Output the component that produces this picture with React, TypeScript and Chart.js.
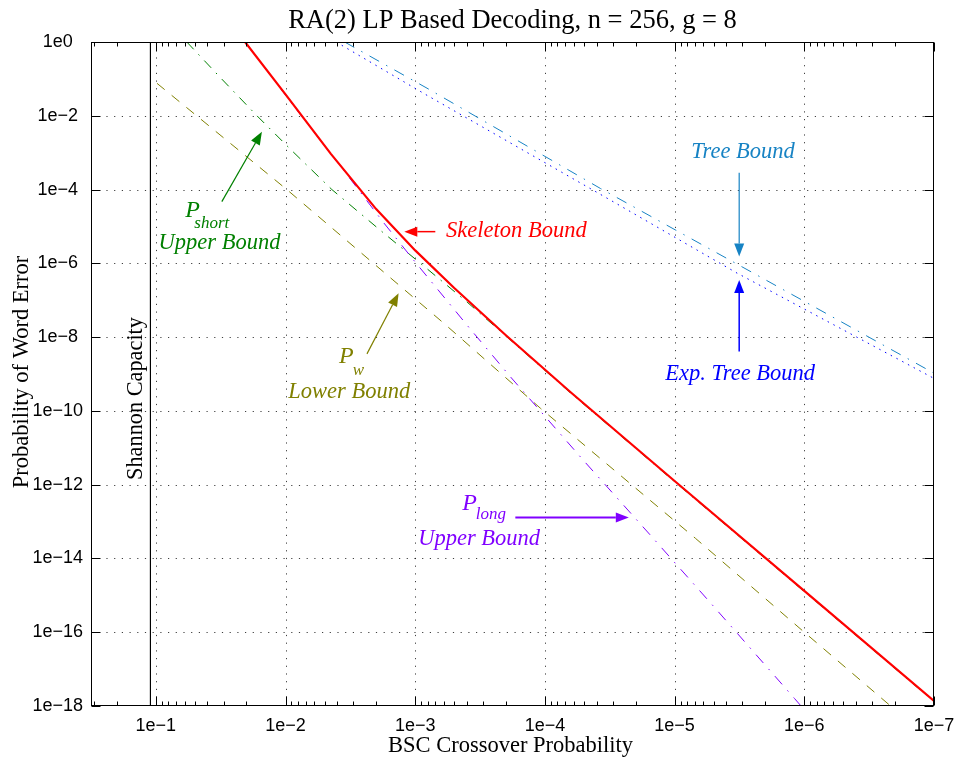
import React, { useEffect, useRef } from 'react';
import { Chart, registerables } from 'chart.js';

Chart.register(...registerables);

// ---- axis ticks ----
const xTicks = [1e-1, 1e-2, 1e-3, 1e-4, 1e-5, 1e-6, 1e-7];
const xTickLabels = ['1e\u22121', '1e\u22122', '1e\u22123', '1e\u22124', '1e\u22125', '1e\u22126', '1e\u22127'];
const yTicks = [1, 1e-2, 1e-4, 1e-6, 1e-8, 1e-10, 1e-12, 1e-14, 1e-16, 1e-18];
const yTickLabels = ['1e0', '1e\u22122', '1e\u22124', '1e\u22126', '1e\u22128', '1e\u221210', '1e\u221212', '1e\u221214', '1e\u221216', '1e\u221218'];

// ---- series (BSC crossover probability p, word error probability) ----
const skeletonP = [2.05e-2, 1.0e-2, 4.47e-3, 2.0e-3, 1.0e-3, 5.0e-4, 2.0e-4, 6.3e-5, 1.0e-5, 1.0e-6, 1.0e-7];
const skeletonErr = [1, 3.8e-2, 9.3e-4, 2.95e-5, 2.24e-6, 2.14e-7, 1.12e-8, 3.16e-10, 1.26e-12, 1.32e-15, 1.38e-18];

const shortP = [5.77e-2, 3.16e-2, 1.66e-2, 8.9e-3, 4.39e-3, 1.86e-3, 8.61e-4, 3.98e-4, 2.0e-4, 6.3e-5, 1.0e-5, 1.0e-6, 1.0e-7];
const shortErr = [1, 1.06e-1, 1.0e-2, 1.12e-3, 1.0e-4, 7.9e-6, 8.5e-7, 8.9e-8, 1.07e-8, 3.0e-10, 1.2e-12, 1.26e-15, 1.32e-18];

const lowerP = [9.8e-2, 9.77e-3, 6.04e-4, 1.08e-4, 6.9e-6, 1.0e-6, 2.16e-7];
const lowerErr = [7.6e-2, 1.0e-4, 2.4e-8, 1.17e-10, 3.5e-14, 1.0e-16, 1.0e-18];

const longP = [2.04e-2, 8.7e-3, 3.58e-3, 1.75e-3, 1.03e-3, 3.98e-4, 1.85e-4, 5.0e-5, 1.53e-5, 5.0e-6, 1.19e-6, 1.0e-6];
const longErr = [1, 1.9e-2, 3.4e-4, 1.26e-5, 1.23e-6, 2.1e-8, 8.5e-10, 4.4e-12, 4.2e-14, 5.0e-16, 1.6e-18, 7.9e-19];

const treeP = [3.5e-3, 8.11e-4, 3.73e-5, 3.29e-6, 1.0e-7];
const treeErr = [1, 5.6e-2, 1.07e-4, 9.5e-7, 1.05e-9];

const expTreeP = [4.07e-3, 8.63e-4, 3.73e-5, 3.29e-6, 1.0e-7];
const expTreeErr = [1, 4.07e-2, 7.4e-5, 5.4e-7, 7.6e-10];

const shannonP = [0.11, 0.11];
const shannonErr = [1, 1e-18];

// ---- annotations (log10 p, log10 P) ----
type Txt = { s: string; lp: number; lP: number; size: number; color: string; italic: boolean };
type Arrow = { lp1: number; lP1: number; lp2: number; lP2: number; color: string; w: number };

const GREEN = '#008000';
const OLIVE = '#808000';
const PURPLE = '#8000ff';
const RED = '#ff0000';
const TREE = '#1783c4';
const EXPTREE = '#0000ff';

const annTexts: Txt[] = [
  { s: 'P', lp: -1.284, lP: -4.734, size: 24, color: GREEN, italic: true },
  { s: 'short', lp: -1.432, lP: -5.041, size: 17, color: GREEN, italic: true },
  { s: 'Upper Bound', lp: -1.491, lP: -5.623, size: 22.5, color: GREEN, italic: true },
  { s: 'Skeleton Bound', lp: -3.78, lP: -5.276, size: 22.5, color: RED, italic: true },
  { s: 'P', lp: -2.468, lP: -8.707, size: 24, color: OLIVE, italic: true },
  { s: 'w', lp: -2.563, lP: -9.024, size: 17, color: OLIVE, italic: true },
  { s: 'Lower Bound', lp: -2.491, lP: -9.659, size: 22.5, color: OLIVE, italic: true },
  { s: 'Tree Bound', lp: -5.528, lP: -3.149, size: 22.5, color: TREE, italic: true },
  { s: 'Exp. Tree Bound', lp: -5.506, lP: -9.157, size: 22.5, color: EXPTREE, italic: true },
  { s: 'P', lp: -3.419, lP: -12.683, size: 24, color: PURPLE, italic: true },
  { s: 'long', lp: -3.583, lP: -12.943, size: 17, color: PURPLE, italic: true },
  { s: 'Upper Bound', lp: -3.493, lP: -13.626, size: 22.5, color: PURPLE, italic: true },
];

const annArrows: Arrow[] = [
  { lp1: -1.509, lP1: -4.328, lp2: -1.818, lP2: -2.431, color: GREEN, w: 1.2 },
  { lp1: -3.155, lP1: -5.141, lp2: -2.916, lP2: -5.141, color: RED, w: 1.5 },
  { lp1: -2.628, lP1: -8.455, lp2: -2.872, lP2: -6.81, color: OLIVE, w: 1.2 },
  { lp1: -5.498, lP1: -3.542, lp2: -5.498, lP2: -5.818, color: TREE, w: 1.2 },
  { lp1: -5.498, lP1: -8.393, lp2: -5.498, lP2: -6.45, color: EXPTREE, w: 1.5 },
  { lp1: -3.772, lP1: -12.892, lp2: -4.647, lP2: -12.892, color: PURPLE, w: 2 },
];

const TITLE = 'RA(2) LP Based Decoding, n = 256, g = 8';
const XTITLE = 'BSC Crossover Probability';
const YTITLE = 'Probability of Word Error';
const SHANNON = 'Shannon Capacity';

const SERIF = '"Liberation Serif", "Times New Roman", serif';
const SANS = '"Liberation Sans", Arial, sans-serif';

const zip = (xs: number[], ys: number[]) => xs.map((x, i) => ({ x, y: ys[i] }));

const decorPlugin = {
  id: 'decor',
  beforeDatasetsDraw(chart: any) {
    const { ctx, chartArea: a, scales } = chart;
    ctx.save();
    ctx.strokeStyle = 'rgba(0,0,0,0.75)';
    ctx.lineWidth = 1;
    ctx.setLineDash([1.2, 6.5]);
    for (const v of xTicks) {
      const x = Math.round(scales.x.getPixelForValue(v)) + 0.5;
      if (x < a.left + 2 || x > a.right - 2) continue;
      ctx.beginPath();
      ctx.moveTo(x, a.top);
      ctx.lineTo(x, a.bottom);
      ctx.stroke();
    }
    for (const v of yTicks) {
      const y = Math.round(scales.y.getPixelForValue(v)) + 0.5;
      if (y < a.top + 2 || y > a.bottom - 2) continue;
      ctx.beginPath();
      ctx.moveTo(a.left, y);
      ctx.lineTo(a.right, y);
      ctx.stroke();
    }
    ctx.restore();
  },
  afterDatasetsDraw(chart: any) {
    const { ctx, chartArea: a, scales } = chart;
    ctx.save();
    ctx.setLineDash([]);
    ctx.strokeStyle = '#000';
    ctx.lineWidth = 1;
    const L = Math.round(a.left) + 0.5, R = Math.round(a.right) - 0.5;
    const T = Math.round(a.top) + 0.5, B = Math.round(a.bottom) - 0.5;
    ctx.strokeRect(L, T, R - L, B - T);
    ctx.beginPath();
    for (const v of xTicks) {
      const x = Math.round(scales.x.getPixelForValue(v)) + 0.5;
      ctx.moveTo(x, B); ctx.lineTo(x, B - 9);
      ctx.moveTo(x, T); ctx.lineTo(x, T + 9);
    }
    for (let k = -7; k <= -1; k++) {
      for (let m = 2; m <= 9; m++) {
        const v = m * Math.pow(10, k);
        const px = scales.x.getPixelForValue(v);
        if (px < a.left || px > a.right) continue;
        const x = Math.round(px) + 0.5;
        ctx.moveTo(x, B); ctx.lineTo(x, B - 4);
        ctx.moveTo(x, T); ctx.lineTo(x, T + 4);
      }
    }
    for (const v of yTicks) {
      const y = Math.round(scales.y.getPixelForValue(v)) + 0.5;
      ctx.moveTo(L, y); ctx.lineTo(L + 9, y);
      ctx.moveTo(R, y); ctx.lineTo(R - 9, y);
    }
    ctx.stroke();
    ctx.restore();
  },
  afterDraw(chart: any) {
    const { ctx, chartArea: a, scales } = chart;
    const px = (lp: number) => scales.x.getPixelForValue(Math.pow(10, lp));
    const py = (lP: number) => scales.y.getPixelForValue(Math.pow(10, lP));
    ctx.save();
    ctx.setLineDash([]);
    ctx.textBaseline = 'alphabetic';
    ctx.textAlign = 'center';
    const cx = (a.left + a.right) / 2;
    const cy = (a.top + a.bottom) / 2;
    ctx.fillStyle = '#000';
    ctx.font = `26.5px ${SERIF}`;
    ctx.fillText(TITLE, cx, 28);
    ctx.font = `22.5px ${SERIF}`;
    ctx.fillText(XTITLE, cx - 2, 752);
    ctx.save();
    ctx.translate(28, cy - 2);
    ctx.rotate(-Math.PI / 2);
    ctx.fillText(YTITLE, 0, 0);
    ctx.restore();
    const sx = px(Math.log10(shannonP[0]));
    ctx.save();
    ctx.translate(sx - 8, 398.5);
    ctx.rotate(-Math.PI / 2);
    ctx.font = `22.3px ${SERIF}`;
    ctx.fillText(SHANNON, 0, 0);
    ctx.restore();
    for (const t of annTexts) {
      ctx.font = `${t.italic ? 'italic ' : ''}${t.size}px ${SERIF}`;
      ctx.fillStyle = t.color;
      ctx.fillText(t.s, px(t.lp), py(t.lP));
    }
    for (const ar of annArrows) {
      const x1 = px(ar.lp1), y1 = py(ar.lP1), x2 = px(ar.lp2), y2 = py(ar.lP2);
      const ang = Math.atan2(y2 - y1, x2 - x1);
      const hl = 13, hw = 5;
      const bx = x2 - hl * Math.cos(ang), by = y2 - hl * Math.sin(ang);
      ctx.strokeStyle = ar.color;
      ctx.fillStyle = ar.color;
      ctx.lineWidth = ar.w;
      ctx.beginPath();
      ctx.moveTo(x1, y1);
      ctx.lineTo(bx, by);
      ctx.stroke();
      ctx.beginPath();
      ctx.moveTo(x2, y2);
      ctx.lineTo(bx + hw * Math.sin(ang), by - hw * Math.cos(ang));
      ctx.lineTo(bx - hw * Math.sin(ang), by + hw * Math.cos(ang));
      ctx.closePath();
      ctx.fill();
    }
    ctx.restore();
  },
};

export default function App() {
  const ref = useRef<HTMLCanvasElement | null>(null);
  useEffect(() => {
    if (!ref.current) return;
    const base = { pointRadius: 0, pointHoverRadius: 0, fill: false, tension: 0, spanGaps: true };
    const chart = new Chart(ref.current, {
      type: 'line',
      data: {
        datasets: [
          { ...base, label: 'Skeleton Bound', data: zip(skeletonP, skeletonErr), borderColor: RED, borderWidth: 2.2, order: 0 },
          { ...base, label: 'Pshort Upper Bound', data: zip(shortP, shortErr), borderColor: GREEN, borderWidth: 1, borderDash: [10, 7, 1.5, 7], order: 2 },
          { ...base, label: 'Pw Lower Bound', data: zip(lowerP, lowerErr), borderColor: OLIVE, borderWidth: 1, borderDash: [10, 9], order: 3 },
          { ...base, label: 'Plong Upper Bound', data: zip(longP, longErr), borderColor: PURPLE, borderWidth: 1, borderDash: [11, 8, 1.5, 8], order: 1 },
          { ...base, label: 'Tree Bound', data: zip(treeP, treeErr), borderColor: TREE, borderWidth: 1, borderDash: [11, 8, 1.5, 8], order: 4 },
          { ...base, label: 'Exp. Tree Bound', data: zip(expTreeP, expTreeErr), borderColor: EXPTREE, borderWidth: 1, borderDash: [1.5, 5], order: 5 },
          { ...base, label: 'Shannon Capacity', data: zip(shannonP, shannonErr), borderColor: '#000', borderWidth: 1, order: 6 },
        ],
      },
      options: {
        animation: false,
        responsive: false,
        maintainAspectRatio: false,
        events: [],
        layout: { padding: { left: 0, top: 42, right: 22, bottom: 0 } },
        plugins: { legend: { display: false }, tooltip: { enabled: false }, title: { display: false } },
        scales: {
          x: {
            type: 'logarithmic',
            reverse: true,
            min: 1e-7,
            max: 0.316,
            grid: { display: false, drawTicks: false },
            border: { display: false },
            afterBuildTicks: (s: any) => { s.ticks = xTicks.map((v) => ({ value: v })); },
            afterFit: (s: any) => { s.height = 53; s.paddingLeft = 0; s.paddingRight = 0; },
            ticks: {
              autoSkip: false, maxRotation: 0, minRotation: 0, padding: 9, color: '#000',
              font: { family: SANS, size: 18 },
              callback: (_v: any, i: number) => xTickLabels[i],
            },
          },
          y: {
            type: 'logarithmic',
            min: 1e-18,
            max: 1,
            grid: { display: false, drawTicks: false },
            border: { display: false },
            afterBuildTicks: (s: any) => { s.ticks = yTicks.map((v) => ({ value: v })); },
            afterFit: (s: any) => { s.width = 91; s.paddingTop = 0; s.paddingBottom = 0; },
            ticks: {
              autoSkip: false, padding: 8, color: '#000', crossAlign: 'center',
              font: { family: SANS, size: 18 },
              callback: (_v: any, i: number) => yTickLabels[i],
            },
          },
        },
      } as any,
      plugins: [decorPlugin],
    });
    return () => chart.destroy();
  }, []);
  return (
    <div style={{ position: 'absolute', left: 0, top: 0, width: 956, height: 759, background: '#fff' }}>
      <canvas ref={ref} width={956} height={759} style={{ width: 956, height: 759, display: 'block' }} />
    </div>
  );
}
